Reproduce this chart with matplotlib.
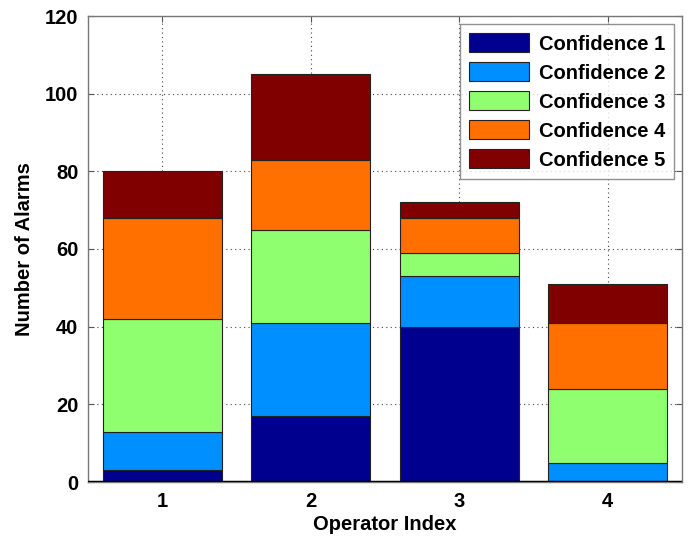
import matplotlib.pyplot as plt
import numpy as np

operators = [1, 2, 3, 4]
conf_labels = ["Confidence 1", "Confidence 2", "Confidence 3", "Confidence 4", "Confidence 5"]
conf1 = [3, 17, 40, 0]
conf2 = [10, 24, 13, 5]
conf3 = [29, 24, 6, 19]
conf4 = [26, 18, 9, 17]
conf5 = [12, 22, 4, 10]
colors = ["#00008F", "#008FFF", "#8FFF70", "#FF7000", "#800000"]

plt.rcParams["font.family"] = ["Liberation Sans", "DejaVu Sans"]
plt.rcParams["font.weight"] = "bold"

fig = plt.figure(figsize=(6.91, 5.42), dpi=100)
ax = fig.add_axes([88 / 691, 1 - 482 / 542, (682 - 88) / 691, (482 - 16) / 542])

bottom = np.zeros(len(operators))
for vals, lab, col in zip([conf1, conf2, conf3, conf4, conf5], conf_labels, colors):
    ax.bar(operators, vals, width=0.8, bottom=bottom, color=col, label=lab,
           edgecolor="#222222", linewidth=0.8, zorder=2)
    bottom += np.array(vals)

ax.set_xlim(0.5, 4.5)
ax.set_ylim(0, 120)
ax.set_xticks(operators)
ax.set_yticks(np.arange(0, 121, 20))
ax.grid(True, linestyle=(0, (1, 3)), color="#444444", linewidth=0.8, zorder=0)
ax.tick_params(direction="in", top=True, right=True, labelsize=14.5, length=4,
               color="#555555", pad=7)
for s in ax.spines.values():
    s.set_color("#777777")
    s.set_linewidth(1.0)
ax.axhline(0, color="black", linewidth=2.5, zorder=3)

ax.set_xlabel("Operator Index", fontsize=14.5, fontweight="bold", labelpad=3)
ax.set_ylabel("Number of Alarms", fontsize=14.5, fontweight="bold", labelpad=8)

leg = ax.legend(loc="upper right", fontsize=14.5, frameon=True, fancybox=False,
                edgecolor="#777777", borderaxespad=0.4, handlelength=3.0,
                handleheight=1.1, labelspacing=0.42, handletextpad=0.45,
                borderpad=0.45)
leg.get_frame().set_linewidth(1.0)

fig.savefig("out.png", dpi=100, facecolor="white")
